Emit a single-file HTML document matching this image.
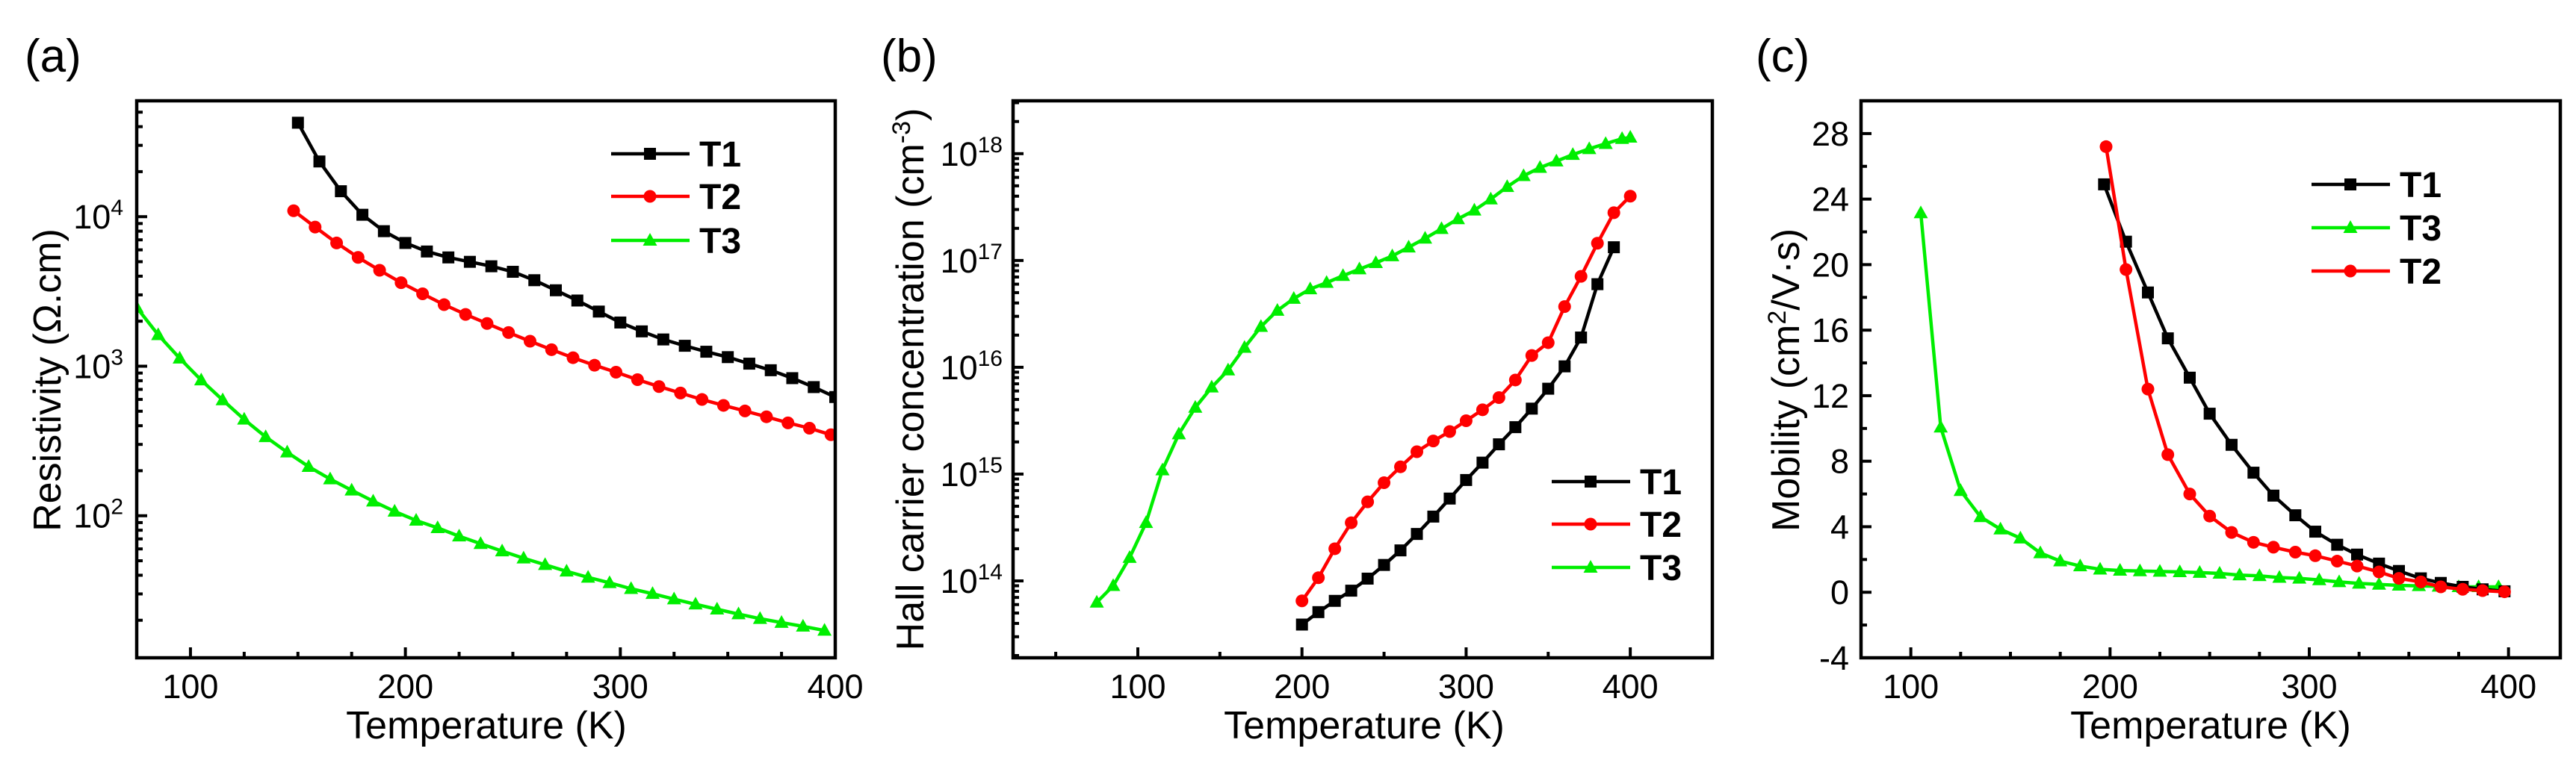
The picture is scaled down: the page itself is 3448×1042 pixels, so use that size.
<!DOCTYPE html>
<html><head><meta charset="utf-8"><style>
html,body{margin:0;padding:0;background:#fff;}
svg{display:block;font-family:"Liberation Sans",Arial,sans-serif;}
</style></head><body>
<svg id="fig" width="3448" height="1042" viewBox="0 0 3448 1042" xmlns="http://www.w3.org/2000/svg"></svg>
<script>
// ---------- Panel (a) data: resistivity ----------
const aT1x = [150,160,170,180,190,200,210,220,230,240,250,260,270,280,290,300,310,320,330,340,350,360,370,380,390,400];
const aT1y = [42500,23400,14800,10300,8000,6670,5850,5340,4990,4660,4280,3760,3220,2750,2320,1960,1710,1510,1370,1250,1150,1040,940,832,725,622];
const aT2x = [148,158,168,178,188,198,208,218,228,238,248,258,268,278,288,298,308,318,328,338,348,358,368,378,388,398];
const aT2y = [10960,8520,6670,5340,4380,3620,3050,2580,2220,1930,1680,1470,1290,1140,1015,912,813,731,662,599,547,502,459,418,385,348];
const aT3x = [75,85,95,105,115,125,135,145,155,165,175,185,195,205,215,225,235,245,255,265,275,285,295,305,315,325,335,345,355,365,375,385,395];
const aT3y = [2470,1620,1130,807,594,441,337,266,213,176,148,125,107,93,83,73,65,58,52,47,42.5,38.7,35.6,32.5,30.1,27.7,25.6,23.7,22,20.5,19.3,18.2,17.1];
const aXTicks = [100,200,300,400];
const aYTicks = [2,3,4];

// ---------- Panel (b) data: Hall carrier concentration ----------
const bT1x = [200,210,220,230,240,250,260,270,280,290,300,310,320,330,340,350,360,370,380,390];
const bT1y = [3.9e13,5.1e13,6.5e13,8.1e13,1.05e14,1.41e14,1.93e14,2.75e14,4.0e14,5.9e14,8.8e14,1.28e15,1.9e15,2.75e15,4.1e15,6.3e15,1.02e16,1.9e16,6.0e16,1.33e17];
const bT2x = [200,210,220,230,240,250,260,270,280,290,300,310,320,330,340,350,360,370,380,390,400];
const bT2y = [6.5e13,1.07e14,2.0e14,3.5e14,5.5e14,8.3e14,1.17e15,1.62e15,2.04e15,2.5e15,3.16e15,4.0e15,5.2e15,7.6e15,1.29e16,1.7e16,3.7e16,7.1e16,1.45e17,2.8e17,4.0e17];
const bT3x = [75,85,95,105,115,125,135,145,155,165,175,185,195,205,215,225,235,245,255,265,275,285,295,305,315,325,335,345,355,365,375,385,395,400];
const bT3y = [6.3e13,9.0e13,1.65e14,3.5e14,1.09e15,2.37e15,4.2e15,6.5e15,9.4e15,1.53e16,2.4e16,3.4e16,4.4e16,5.4e16,6.2e16,7.2e16,8.3e16,9.5e16,1.1e17,1.33e17,1.61e17,1.98e17,2.45e17,2.95e17,3.75e17,4.9e17,6.2e17,7.4e17,8.5e17,9.8e17,1.11e18,1.24e18,1.38e18,1.42e18];
const bXTicks = [100,200,300,400];
const bYTicks = [14,15,16,17,18];

// ---------- Panel (c) data: mobility ----------
const cT1x = [197,208,219,229,240,250,261,272,282,293,303,314,324,335,345,356,366,377,387,398];
const cT1y = [24.9,21.4,18.3,15.5,13.1,10.9,9.0,7.3,5.9,4.7,3.7,2.9,2.3,1.75,1.3,0.85,0.57,0.33,0.18,0.06];
const cT2x = [198,208,219,229,240,250,261,272,282,293,303,314,324,335,345,356,366,377,387,398];
const cT2y = [27.2,19.7,12.4,8.4,6.0,4.65,3.65,3.05,2.75,2.45,2.23,1.9,1.6,1.24,0.85,0.63,0.33,0.18,0.1,0.03];
const cT3x = [105,115,125,135,145,155,165,175,185,195,205,215,225,235,245,255,265,275,285,295,305,315,325,335,345,355,365,375,385,395];
const cT3y = [23.15,10.07,6.2,4.6,3.85,3.3,2.4,1.9,1.6,1.4,1.33,1.3,1.27,1.24,1.2,1.15,1.05,1.0,0.9,0.85,0.75,0.63,0.54,0.48,0.42,0.39,0.36,0.33,0.33,0.33];
const cXTicks = [100,200,300,400];
const cYTicks = [-4,0,4,8,12,16,20,24,28];

const NS = "http://www.w3.org/2000/svg";
const svg = document.getElementById('fig');
function mk(tag, attrs, parent){
  const e = document.createElementNS(NS, tag);
  for (const k in attrs) e.setAttribute(k, attrs[k]);
  (parent||svg).appendChild(e);
  return e;
}
const COL = {T1:'#000000', T2:'#ff0000', T3:'#00ee00'};

function marker(g, kind, x, y, color){
  let m;
  if (kind==='sq') m = mk('rect',{x:x-8,y:y-8,width:16,height:16,fill:color},g);
  else if (kind==='ci') m = mk('circle',{cx:x,cy:y,r:8.5,fill:color},g);
  else m = mk('polygon',{points:`${x},${y-10} ${x-9.5},${y+7} ${x+9.5},${y+7}`,fill:color},g);
  
  
}
function series(g, xs, ys, fx, fy, color, kind, name){
  const sg = mk('g',{},g);
  
  
  const pts = xs.map((x,i)=>fx(x).toFixed(1)+','+fy(ys[i]).toFixed(1)).join(' ');
  const pl = mk('polyline',{points:pts,fill:'none',stroke:color,'stroke-width':4.5,'stroke-linejoin':'round'},sg);
  
  
  xs.forEach((x,i)=>marker(sg,kind,fx(x),fy(ys[i]),color));
}
function text(g, x, y, s, size, anchor, name, weight){
  const t = mk('text',{x:x,y:y,'font-size':size,'text-anchor':anchor||'middle',fill:'#000','font-weight':weight||'normal'},g);
  t.textContent = s;
  
  
  return t;
}
function legend(g, lx, ly, entries){
  const lg = mk('g',{},g);
  
  
  entries.forEach((e,i)=>{
    const y = ly[i];
    const eg = mk('g',{},lg);
    
    
    mk('line',{x1:lx,y1:y,x2:lx+105,y2:y,stroke:COL[e[0]],'stroke-width':4.5},eg);
    marker(eg,e[1],lx+52,y,COL[e[0]]);
    text(eg,lx+118,y+17,e[0],48,'start','legend-label','bold');
  });
}
function frame(g,L,T,R,B,id){
  const cp = mk('clipPath',{id:id},g);
  mk('rect',{x:L,y:T,width:R-L,height:B-T},cp);
  const f = mk('rect',{x:L,y:T,width:R-L,height:B-T,fill:'none',stroke:'#000','stroke-width':4.5},g);
  
  
}
function tick(g,x1,y1,x2,y2){ mk('line',{x1:x1,y1:y1,x2:x2,y2:y2,stroke:'#000','stroke-width':4}); g.appendChild(svg.lastChild); }
function supLabel(g,xRight,y,base,exp){
  const t=text(g,xRight,y+16,base,45,'end','y-tick-label');
  const s=mk('tspan',{dy:-18,'font-size':30},t); s.textContent=String(exp);
  return t;
}

// ================= Panel (a) =================
(function(){
  const L=183,R=1118,T=135,B=881, x0=75,x1=400, l0=1.05,l1=4.775;
  const fx=v=>L+(v-x0)/(x1-x0)*(R-L);
  const fy=v=>B-(Math.log10(v)-l0)/(l1-l0)*(B-T);
  const g = mk('g',{});  
  text(g,33,96,'(a)',62,'start','panel-label-a');
  const tg = mk('g',{},g);  
  for(let v=100; v<=400; v+=25){ const x=fx(v); tick(tg,x,B,x,B-(v%100===0?14:8)); }
  for(let d=1; d<=4; d++) for(let m=1;m<=9;m++){ const v=m*Math.pow(10,d); const lv=Math.log10(v); if(lv<l0||lv>l1) continue; const y=fy(v); tick(tg,L,y,L+(m===1?14:8),y); }
  aXTicks.forEach(v=>text(g,fx(v),935,String(v),45,'middle','x-tick-label'));
  aYTicks.forEach(p=>supLabel(g,L-18,fy(Math.pow(10,p)),'10',p));
  text(g,651,989,'Temperature (K)',52,'middle','x-axis-title');
  const yt=text(g,0,0,'Resistivity (Ω.cm)',52,'middle','y-axis-title'); yt.setAttribute('transform','translate(81,509) rotate(-90)');
  const pg = mk('g',{'clip-path':'url(#clipA)'},g);
  series(pg,aT3x,aT3y,fx,fy,COL.T3,'tr','series-t3');
  series(pg,aT2x,aT2y,fx,fy,COL.T2,'ci','series-t2');
  series(pg,aT1x,aT1y,fx,fy,COL.T1,'sq','series-t1');
  frame(g,L,T,R,B,'clipA');
  legend(g,818,[206,263,322],[['T1','sq'],['T2','ci'],['T3','tr']]);
})();

// ================= Panel (b) =================
(function(){
  const L=1356,R=2292,T=135,B=881, x0=24,x1=450, l0=13.28,l1=18.495;
  const fx=v=>L+(v-x0)/(x1-x0)*(R-L);
  const fy=v=>B-(Math.log10(v)-l0)/(l1-l0)*(B-T);
  const g = mk('g',{});  
  text(g,1179,96,'(b)',62,'start','panel-label-b');
  const tg = mk('g',{},g);  
  for(let v=50; v<=450; v+=50){ const x=fx(v); tick(tg,x,B,x,B-(v%100===0?14:8)); }
  for(let d=13; d<=18; d++) for(let m=1;m<=9;m++){ const lv=d+Math.log10(m); if(lv<l0||lv>l1) continue; const y=fy(Math.pow(10,lv)); tick(tg,L,y,L+(m===1?14:8),y); }
  bXTicks.forEach(v=>text(g,fx(v),935,String(v),45,'middle','x-tick-label'));
  bYTicks.forEach(p=>supLabel(g,L-14,fy(Math.pow(10,p)),'10',p));
  text(g,1826,989,'Temperature (K)',52,'middle','x-axis-title');
  const yt=text(g,0,0,'Hall carrier concentration (cm',52,'middle','y-axis-title'); yt.setAttribute('transform','translate(1236,508) rotate(-90)');
  const s1=mk('tspan',{dy:-18,'font-size':34},yt); s1.textContent='-3';
  const s2=mk('tspan',{dy:18},yt); s2.textContent=')';
  const pg = mk('g',{'clip-path':'url(#clipB)'},g);
  series(pg,bT3x,bT3y,fx,fy,COL.T3,'tr','series-t3');
  series(pg,bT2x,bT2y,fx,fy,COL.T2,'ci','series-t2');
  series(pg,bT1x,bT1y,fx,fy,COL.T1,'sq','series-t1');
  frame(g,L,T,R,B,'clipB');
  legend(g,2077,[645,702,760],[['T1','sq'],['T2','ci'],['T3','tr']]);
})();

// ================= Panel (c) =================
(function(){
  const L=2491,R=3427,T=135,B=881, x0=75,x1=426, y0=-4,y1=30;
  const fx=v=>L+(v-x0)/(x1-x0)*(R-L);
  const fy=v=>B-(v-y0)/(y1-y0)*(B-T);
  const g = mk('g',{});  
  text(g,2350,96,'(c)',62,'start','panel-label-c');
  const tg = mk('g',{},g);  
  for(let v=100; v<=400; v+=25){ const x=fx(v); tick(tg,x,B,x,B-(v%100===0?14:8)); }
  for(let v=-4; v<=30; v+=2){ const y=fy(v); tick(tg,L,y,L+(v%4===0?14:8),y); }
  cXTicks.forEach(v=>text(g,fx(v),935,String(v),45,'middle','x-tick-label'));
  cYTicks.forEach(v=>text(g,L-16,fy(v)+16,String(v),45,'end','y-tick-label'));
  text(g,2959,989,'Temperature (K)',52,'middle','x-axis-title');
  const yt=text(g,0,0,'Mobility (cm',52,'middle','y-axis-title'); yt.setAttribute('transform','translate(2408,509) rotate(-90)');
  const s1=mk('tspan',{dy:-18,'font-size':34},yt); s1.textContent='2';
  const s2=mk('tspan',{dy:18},yt); s2.textContent='/V·s)';
  const pg = mk('g',{'clip-path':'url(#clipC)'},g);
  series(pg,cT3x,cT3y,fx,fy,COL.T3,'tr','series-t3');
  series(pg,cT1x,cT1y,fx,fy,COL.T1,'sq','series-t1');
  series(pg,cT2x,cT2y,fx,fy,COL.T2,'ci','series-t2');
  frame(g,L,T,R,B,'clipC');
  legend(g,3094,[247,305,363],[['T1','sq'],['T3','tr'],['T2','ci']]);
})();
</script>
</body></html>
